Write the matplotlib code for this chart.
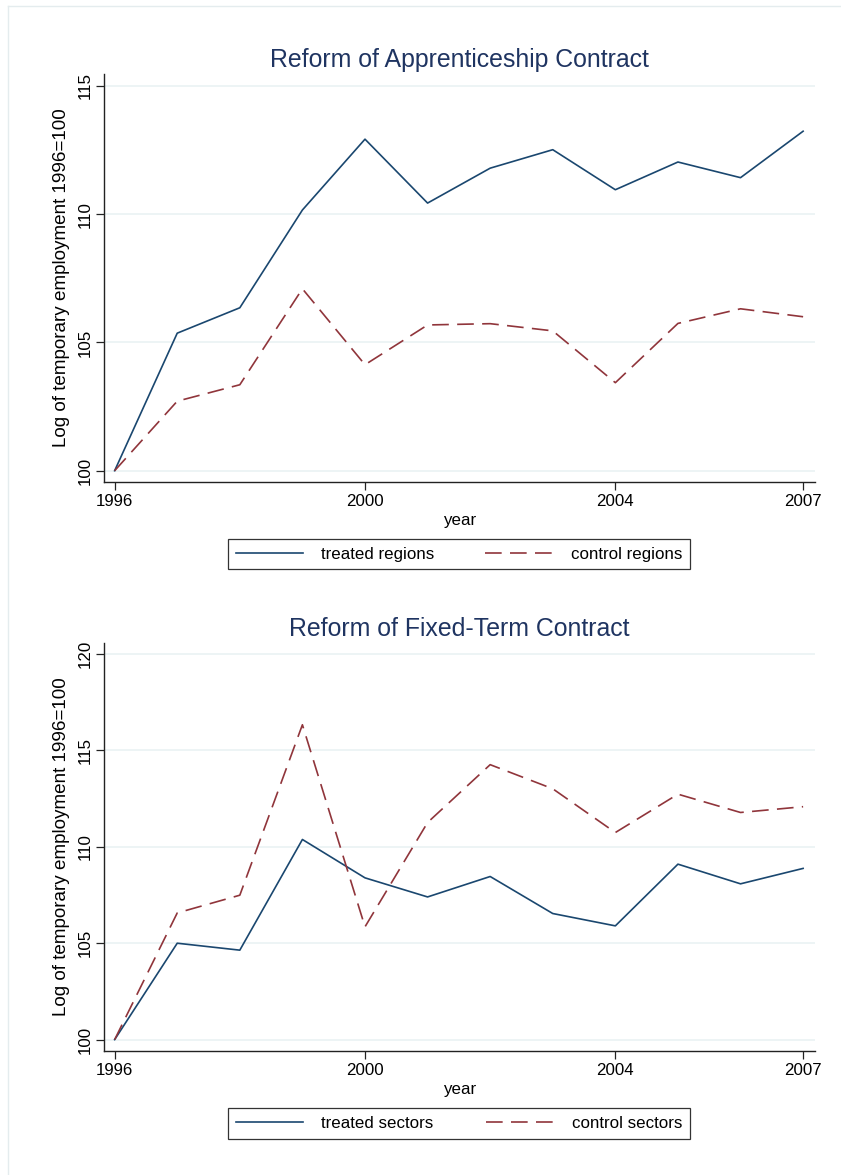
import matplotlib
matplotlib.use("Agg")
import matplotlib.pyplot as plt
from matplotlib.lines import Line2D

plt.rcParams['font.family'] = ['Liberation Sans', 'DejaVu Sans']
plt.rcParams['lines.scale_dashes'] = False

# ---------------- data ----------------
years = [1996, 1997, 1998, 1999, 2000, 2001, 2002, 2003, 2004, 2005, 2006, 2007]

treated_regions = [100.0, 105.36, 106.35, 110.16, 112.92, 110.43, 111.79, 112.51,
                   110.95, 112.03, 111.42, 113.23]
control_regions = [100.0, 102.71, 103.35, 107.09, 104.13, 105.68, 105.73, 105.45,
                   103.43, 105.74, 106.31, 106.00]

treated_sectors = [100.0, 105.00, 104.64, 110.38, 108.39, 107.40, 108.46, 106.54,
                   105.90, 109.10, 108.08, 108.88]
control_sectors = [100.0, 106.57, 107.49, 116.33, 105.85, 111.26, 114.26, 113.01,
                   110.74, 112.73, 111.78, 112.08]

x_ticks = [1996, 2000, 2004, 2007]
y_ticks_top = [100, 105, 110, 115]
y_ticks_bottom = [100, 105, 110, 115, 120]

titles = ["Reform of Apprenticeship Contract", "Reform of Fixed-Term Contract"]
legend_top = ["treated regions", "control regions"]
legend_bottom = ["treated sectors", "control sectors"]
ylabel = "Log of temporary employment 1996=100"
xlabel = "year"

# ---------------- style ----------------
W, H = 841, 1175
NAVY = "#1a476f"
MAROON = "#90353b"
GRID = "#eaf2f3"
TITLE = "#1f3461"
FS = 12.2

fig = plt.figure(figsize=(W / 100, H / 100), dpi=100)
fig.patch.set_facecolor("white")

# faint outer graph-region border (top and left edges only)
border_col = "#e4ecee"
fig.lines.append(Line2D([8 / W, 1.0], [1 - 6 / H, 1 - 6 / H], transform=fig.transFigure,
                        color=border_col, linewidth=1.0))
fig.lines.append(Line2D([8 / W, 8 / W], [0.0, 1 - 6 / H], transform=fig.transFigure,
                        color=border_col, linewidth=1.0))


def px_axes(left, top, right, bottom):
    return fig.add_axes([left / W, 1 - bottom / H, (right - left) / W, (bottom - top) / H])


def style_axes(ax, ylim, yticks, title):
    ax.set_xlim(1995.83, 2007.19)
    ax.set_ylim(*ylim)
    ax.set_xticks(x_ticks)
    ax.set_xticklabels([str(t) for t in x_ticks])
    ax.set_yticks(yticks)
    ax.set_yticklabels([str(t) for t in yticks], rotation=90, va="center", ha="right")
    for s in ["top", "right"]:
        ax.spines[s].set_visible(False)
    for s in ["left", "bottom"]:
        ax.spines[s].set_color("#222222")
        ax.spines[s].set_linewidth(1.0)
    ax.tick_params(axis="both", direction="out", length=5.8, width=0.9, color="#222222",
                   labelsize=FS, labelcolor="black")
    ax.tick_params(axis="x", pad=2.5)
    ax.tick_params(axis="y", pad=2.0)
    ax.yaxis.grid(True, color=GRID, linewidth=1.2)
    ax.set_axisbelow(True)
    ax.set_title(title, color=TITLE, fontsize=17.9, pad=5.3)
    ax.set_xlabel(xlabel, fontsize=FS)
    ax.xaxis.set_label_coords(0.5, -0.075)
    ax.set_ylabel(ylabel, fontsize=13.6)
    ax.yaxis.set_label_coords(-0.0485, 0.5)


def draw_panel(ax, s1, s2, labels, legend_box):
    l1, = ax.plot(years, s1, color=NAVY, linewidth=1.2, label=labels[0], zorder=3)
    l2, = ax.plot(years, s2, color=MAROON, linewidth=1.2, label=labels[1], zorder=3,
                  linestyle=(0, (12.0, 6.0)))
    x0, y0, x1, y1 = legend_box
    leg = fig.legend(handles=[l1, l2], labels=labels, ncol=2, loc="center",
                     bbox_to_anchor=(x0 / W, 1 - y1 / H, (x1 - x0) / W, (y1 - y0) / H),
                     mode="expand", fontsize=FS, frameon=True, fancybox=False,
                     edgecolor="black", handlelength=4.0, handletextpad=1.05,
                     borderpad=0.45, borderaxespad=0.0)
    leg.get_frame().set_linewidth(0.9)
    return leg


ax1 = px_axes(104, 74, 815, 482)
style_axes(ax1, (99.56, 115.46), y_ticks_top, titles[0])
draw_panel(ax1, treated_regions, control_regions, legend_top, (228, 538, 690, 570))

ax2 = px_axes(104, 643, 815, 1051)
style_axes(ax2, (99.41, 120.57), y_ticks_bottom, titles[1])
draw_panel(ax2, treated_sectors, control_sectors, legend_bottom, (228, 1107, 690, 1140))

fig.savefig("out.png", dpi=100, facecolor="white")
